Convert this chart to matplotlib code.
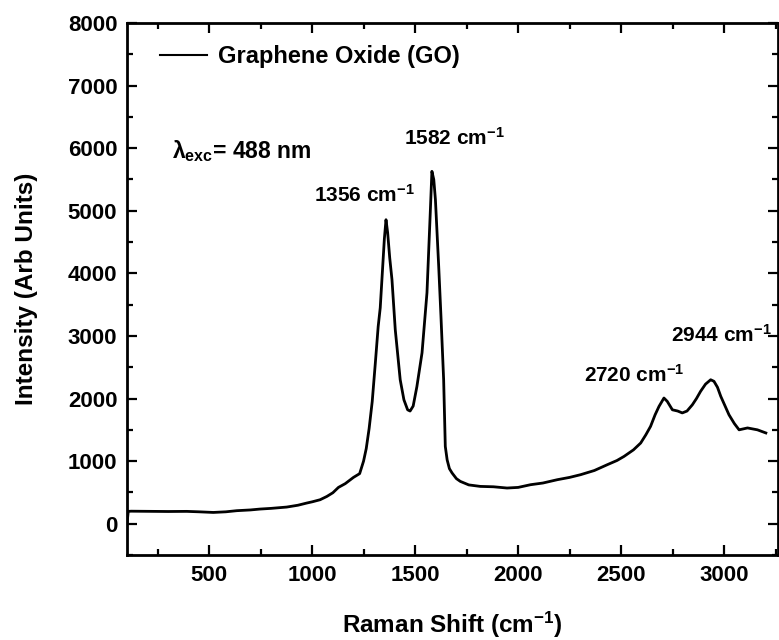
import matplotlib
matplotlib.use("Agg")
import matplotlib.pyplot as plt
from matplotlib.ticker import MultipleLocator

# Raman spectrum of graphene oxide
raman_shift = [100, 106, 120, 228, 300, 390, 450, 519, 580, 633, 700, 746, 800, 876,
               930, 973, 1000, 1038, 1071, 1100, 1127, 1160, 1200, 1230, 1249, 1262,
               1276, 1291, 1306, 1320, 1330, 1340, 1350, 1358, 1366, 1376, 1387, 1403,
               1427, 1445, 1463, 1475, 1490, 1508, 1533, 1557, 1573, 1581, 1590, 1598,
               1614, 1625, 1638, 1646, 1655, 1666, 1679, 1700, 1719, 1760, 1816, 1880,
               1946, 2000, 2060, 2120, 2190, 2250, 2303, 2370, 2433, 2480, 2514, 2560,
               2595, 2620, 2643, 2665, 2684, 2708, 2724, 2749, 2775, 2797, 2820, 2846,
               2866, 2886, 2910, 2935, 2951, 2968, 2984, 3005, 3024, 3050, 3073, 3114,
               3162, 3203]
intensity = [0, 197, 200, 197, 195, 197, 190, 180, 190, 208, 220, 234, 245, 266,
             295, 330, 350, 383, 436, 495, 580, 640, 740, 800, 1000, 1200,
             1520, 1950, 2560, 3150, 3450, 4000, 4550, 4857, 4650, 4250, 3900, 3100,
             2300, 1980, 1820, 1800, 1880, 2190, 2730, 3690, 4970, 5630, 5500, 5180,
             4110, 3310, 2300, 1235, 1020, 880, 810, 720, 676, 620, 596, 590,
             570, 580, 623, 650, 703, 740, 783, 850, 943, 1010, 1075, 1180,
             1289, 1420, 1555, 1740, 1874, 2008, 1955, 1820, 1800, 1770, 1800, 1900,
             2000, 2115, 2230, 2300, 2275, 2180, 2035, 1880, 1740, 1600, 1500, 1530,
             1500, 1450]

x_ticks = [500, 1000, 1500, 2000, 2500, 3000]
y_ticks = [0, 1000, 2000, 3000, 4000, 5000, 6000, 7000, 8000]

peak_labels = ["1356", "1582", "2720", "2944"]

plt.rcParams["font.family"] = ["Liberation Sans", "DejaVu Sans"]
plt.rcParams["font.weight"] = "bold"
plt.rcParams["mathtext.fontset"] = "custom"
plt.rcParams["mathtext.rm"] = "Liberation Sans:bold"
plt.rcParams["mathtext.it"] = "Liberation Sans:bold"
plt.rcParams["mathtext.bf"] = "Liberation Sans:bold"

fig = plt.figure(figsize=(7.79, 6.40), dpi=100)
ax = fig.add_axes([127 / 779, 1 - 555 / 640, 651 / 779, 532 / 640])

ax.plot(raman_shift, intensity, color="black", lw=2.0, label="Graphene Oxide (GO)")

ax.set_xlim(100, 3262)
ax.set_ylim(-500, 8000)
ax.set_xticks(x_ticks)
ax.set_yticks(y_ticks)
ax.xaxis.set_minor_locator(MultipleLocator(250))
ax.yaxis.set_minor_locator(MultipleLocator(500))
ax.tick_params(which="both", direction="in", top=True, right=True, width=1.6,
               labelsize=16, pad=7)
ax.tick_params(which="major", length=7)
ax.tick_params(which="minor", length=4)
for s in ax.spines.values():
    s.set_linewidth(2)

ax.set_xlabel("Raman Shift (cm$^{-1}$)", fontsize=17.5, fontweight="bold", labelpad=17)
ax.set_ylabel("Intensity (Arb Units)", fontsize=17.5, fontweight="bold", labelpad=21)

leg = ax.legend(loc="center left", bbox_to_anchor=(33 / 651, 1 - 34 / 532), frameon=False,
                fontsize=17, handlelength=2.0, handletextpad=0.45, borderpad=0,
                borderaxespad=0)
leg.get_lines()[0].set_linewidth(1.5)

# annotations (positions in pixel-derived data coords)
ax.text(318, 5950, "λ$_{exc}$= 488 nm", fontsize=16.5, fontweight="bold", va="center")
ax.text(1010, 5250, peak_labels[0] + " cm$^{-1}$", fontsize=15, fontweight="bold", va="center")
ax.text(1445, 6170, peak_labels[1] + " cm$^{-1}$", fontsize=15, fontweight="bold", va="center")
ax.text(2320, 2380, peak_labels[2] + " cm$^{-1}$", fontsize=15, fontweight="bold", va="center")
ax.text(2740, 3020, peak_labels[3] + " cm$^{-1}$", fontsize=15, fontweight="bold", va="center")

fig.savefig("out.png", dpi=100)
